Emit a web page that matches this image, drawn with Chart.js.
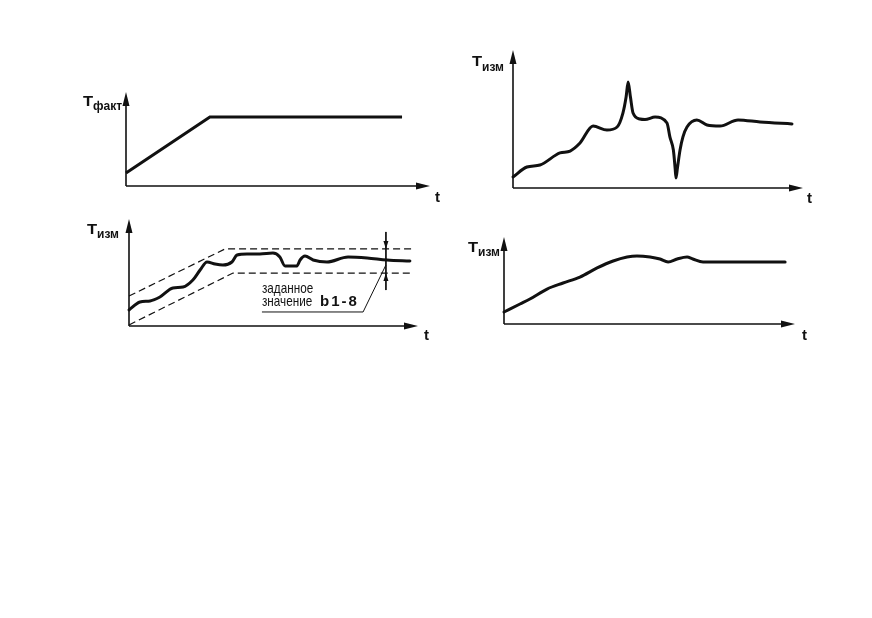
<!DOCTYPE html>
<html lang="ru">
<head>
<meta charset="utf-8">
<title>Графики температуры</title>
<script src="https://cdn.jsdelivr.net/npm/chart.js@4/dist/chart.umd.min.js"></script>
<style>
  html, body { margin: 0; padding: 0; background: #fff; }
  #sheet { position: relative; width: 872px; height: 618px; overflow: hidden; background: #fff; }
  #sheet canvas { position: absolute; left: 0; top: 0; }
  .lbl { position: absolute; font-family: "Liberation Sans", Arial, Helvetica, sans-serif; font-weight: bold;
         color: #111; white-space: nowrap; line-height: 1; }
  .big { font-size: 14px; transform: scaleX(1.18); transform-origin: left top; }
  .sub { font-size: 12px; }
  .axis-t { font-size: 15px; }
  .note { position: absolute; font-family: "Liberation Sans", Arial, sans-serif; font-size: 15px; color: #111;
          white-space: nowrap; line-height: 1; transform: scaleX(0.78); transform-origin: left top; }
  .code { position: absolute; font-family: "Liberation Sans", Arial, sans-serif; font-weight: bold; font-size: 15px;
          letter-spacing: 2px; color: #111; white-space: nowrap; line-height: 1; }
</style>
</head>
<body>
<div id="sheet">
  <canvas id="c1" width="872" height="618"></canvas>
  <canvas id="c2" width="872" height="618"></canvas>
  <canvas id="c3" width="872" height="618"></canvas>
  <canvas id="c4" width="872" height="618"></canvas>

  <span class="lbl big" style="left:83px;top:94px">T</span><span class="lbl sub" style="left:93px;top:100px">факт</span>
  <span class="lbl axis-t" style="left:435px;top:189px">t</span>

  <span class="lbl big" style="left:472px;top:54px">T</span><span class="lbl sub" style="left:482px;top:61px">изм</span>
  <span class="lbl axis-t" style="left:807px;top:190px">t</span>

  <span class="lbl big" style="left:87px;top:222px">T</span><span class="lbl sub" style="left:97px;top:228px">изм</span>
  <span class="lbl axis-t" style="left:424px;top:327px">t</span>

  <span class="lbl big" style="left:468px;top:240px">T</span><span class="lbl sub" style="left:478px;top:246px">изм</span>
  <span class="lbl axis-t" style="left:802px;top:327px">t</span>

  <div class="note" style="left:262px;top:280px">заданное</div>
  <div class="note" style="left:262px;top:293px">значение</div>
  <div class="code" style="left:320px;top:293px">b1-8</div>
</div>

<script>
// Actual temperature: linear ramp, then hold
const rampTime = [0, 27.6, 90.8];
const rampTemp = [13.8, 73.4, 73.4];

// Measured temperature with an overshoot spike and a sharp dip
const spikeTime = [0, 4.8, 9.3, 16.2, 19.7, 23.1, 27.6, 32.4, 35.9, 37.9, 39.0, 39.7, 40.5, 41.4,
                   43.8, 45.5, 49.0, 53.1, 54.1, 55.3, 55.9, 56.2, 56.7, 57.6, 58.6, 60.0, 63.4,
                   66.9, 71.4, 77.6, 85.2, 96.2];
const spikeTemp = [8.0, 15.2, 16.7, 25.4, 26.8, 32.6, 44.9, 42.0, 44.2, 54.3, 65.9, 76.8, 65.9, 54.3,
                   50.0, 49.6, 51.4, 47.1, 37.0, 27.5, 14.5, 7.2, 14.5, 27.5, 37.0, 44.2, 49.3,
                   45.7, 44.9, 49.3, 47.8, 46.4];

// Measured temperature staying inside the tolerance band
const bandTime = [0, 3.8, 7.3, 10.7, 15.2, 18.7, 22.1, 24.6, 27.0, 29.8, 32.5, 35.6, 37.4, 40.8,
                  45.3, 49.8, 52.2, 54.0, 58.1, 59.2, 60.9, 63.7, 68.5, 75.8, 82.4, 89.3, 97.2];
const bandTemp = [15.0, 22.4, 23.4, 27.1, 35.5, 36.4, 43.0, 52.3, 59.8, 57.9, 57.0, 59.8, 66.4, 67.3,
                  67.3, 68.2, 64.5, 56.1, 56.1, 61.7, 65.4, 61.7, 59.8, 64.5, 63.6, 61.7, 60.7];

// Tolerance band limits
const upperTime = [0, 33.2, 98.3];
const upperTemp = [28.0, 72.0, 72.0];
const lowerTime = [0, 36.0, 98.3];
const lowerTemp = [1.0, 49.5, 49.5];

// Band width marker and the leader line of the note
const markerTime = [88.9, 88.9];
const markerTemp = [87.9, 33.6];
const leaderTime = [46.0, 81.0, 88.9];
const leaderTemp = [13.1, 13.1, 57.0];

// Measured temperature: smooth approach to the setpoint
const smoothTime = [0, 5.5, 8.9, 14.8, 20.3, 26.1, 32.0, 37.5, 42.3, 45.7, 50.2, 53.6, 56.4, 59.5,
                    62.9, 64.9, 68.4, 71.8, 83.5, 96.6];
const smoothTemp = [13.8, 23.0, 28.7, 40.2, 47.1, 54.0, 64.4, 72.4, 77.0, 78.2, 77.0, 74.7, 71.3, 74.7,
                    77.0, 74.7, 71.3, 71.3, 71.3, 71.3];

const INK = '#111';

function points(xs, ys) {
  return xs.map((x, i) => ({ x: x, y: ys[i] }));
}

// Plain axes with filled arrowheads along the plot area edges
const arrowAxes = {
  id: 'arrowAxes',
  beforeDatasetsDraw(chart) {
    const { ctx, chartArea: a } = chart;
    ctx.save();
    ctx.strokeStyle = INK;
    ctx.fillStyle = INK;
    ctx.lineWidth = 1.6;
    ctx.beginPath();
    ctx.moveTo(a.left, a.bottom);
    ctx.lineTo(a.right - 10, a.bottom);
    ctx.moveTo(a.left, a.bottom);
    ctx.lineTo(a.left, a.top + 10);
    ctx.stroke();
    ctx.beginPath();
    ctx.moveTo(a.right, a.bottom);
    ctx.lineTo(a.right - 14, a.bottom - 3.5);
    ctx.lineTo(a.right - 14, a.bottom + 3.5);
    ctx.closePath();
    ctx.moveTo(a.left, a.top);
    ctx.lineTo(a.left - 3.5, a.top + 14);
    ctx.lineTo(a.left + 3.5, a.top + 14);
    ctx.closePath();
    ctx.fill();
    ctx.restore();
  }
};

// Small arrowheads pointing at the band limits on the width marker
const bandArrows = {
  id: 'bandArrows',
  afterDatasetsDraw(chart) {
    const { ctx, scales: { x, y } } = chart;
    const px = x.getPixelForValue(markerTime[0]);
    const top = y.getPixelForValue(upperTemp[1]);
    const bot = y.getPixelForValue(lowerTemp[1]);
    ctx.save();
    ctx.fillStyle = INK;
    ctx.beginPath();
    ctx.moveTo(px, top);
    ctx.lineTo(px - 2.5, top - 8);
    ctx.lineTo(px + 2.5, top - 8);
    ctx.closePath();
    ctx.moveTo(px, bot);
    ctx.lineTo(px - 2.5, bot + 8);
    ctx.lineTo(px + 2.5, bot + 8);
    ctx.closePath();
    ctx.fill();
    ctx.restore();
  }
};

function curve(xs, ys, extra) {
  return Object.assign({
    data: points(xs, ys),
    borderColor: INK,
    borderWidth: 3,
    pointRadius: 0,
    fill: false,
    clip: false,
    cubicInterpolationMode: 'monotone',
    borderCapStyle: 'round',
    borderJoinStyle: 'round'
  }, extra || {});
}

function makePanel(id, frame, datasets, plugins) {
  return new Chart(document.getElementById(id), {
    type: 'line',
    data: { datasets: datasets },
    options: {
      responsive: false,
      animation: false,
      events: [],
      devicePixelRatio: 1,
      layout: { padding: { left: frame.left, top: frame.top, right: 872 - frame.right, bottom: 618 - frame.bottom } },
      plugins: { legend: { display: false }, tooltip: { enabled: false }, title: { display: false } },
      scales: {
        x: { type: 'linear', min: 0, max: 100, display: false },
        y: { type: 'linear', min: 0, max: 100, display: false }
      }
    },
    plugins: [arrowAxes].concat(plugins || [])
  });
}

makePanel('c1', { left: 126, top: 92, right: 430, bottom: 186 }, [
  curve(rampTime, rampTemp, { tension: 0, cubicInterpolationMode: 'default', borderJoinStyle: 'miter', borderCapStyle: 'butt' })
]);

makePanel('c2', { left: 513, top: 50, right: 803, bottom: 188 }, [
  curve(spikeTime, spikeTemp)
]);

const dashed = { borderWidth: 1.2, borderDash: [7, 4], tension: 0, cubicInterpolationMode: 'default', borderCapStyle: 'butt', borderJoinStyle: 'miter' };
const thin = { borderWidth: 1, tension: 0, cubicInterpolationMode: 'default', borderCapStyle: 'butt', borderJoinStyle: 'miter' };

makePanel('c3', { left: 129, top: 219, right: 418, bottom: 326 }, [
  curve(upperTime, upperTemp, dashed),
  curve(lowerTime, lowerTemp, dashed),
  curve(markerTime, markerTemp, thin),
  curve(leaderTime, leaderTemp, thin),
  curve(bandTime, bandTemp)
], [bandArrows]);

makePanel('c4', { left: 504, top: 237, right: 795, bottom: 324 }, [
  curve(smoothTime, smoothTemp)
]);
</script>
</body>
</html>
